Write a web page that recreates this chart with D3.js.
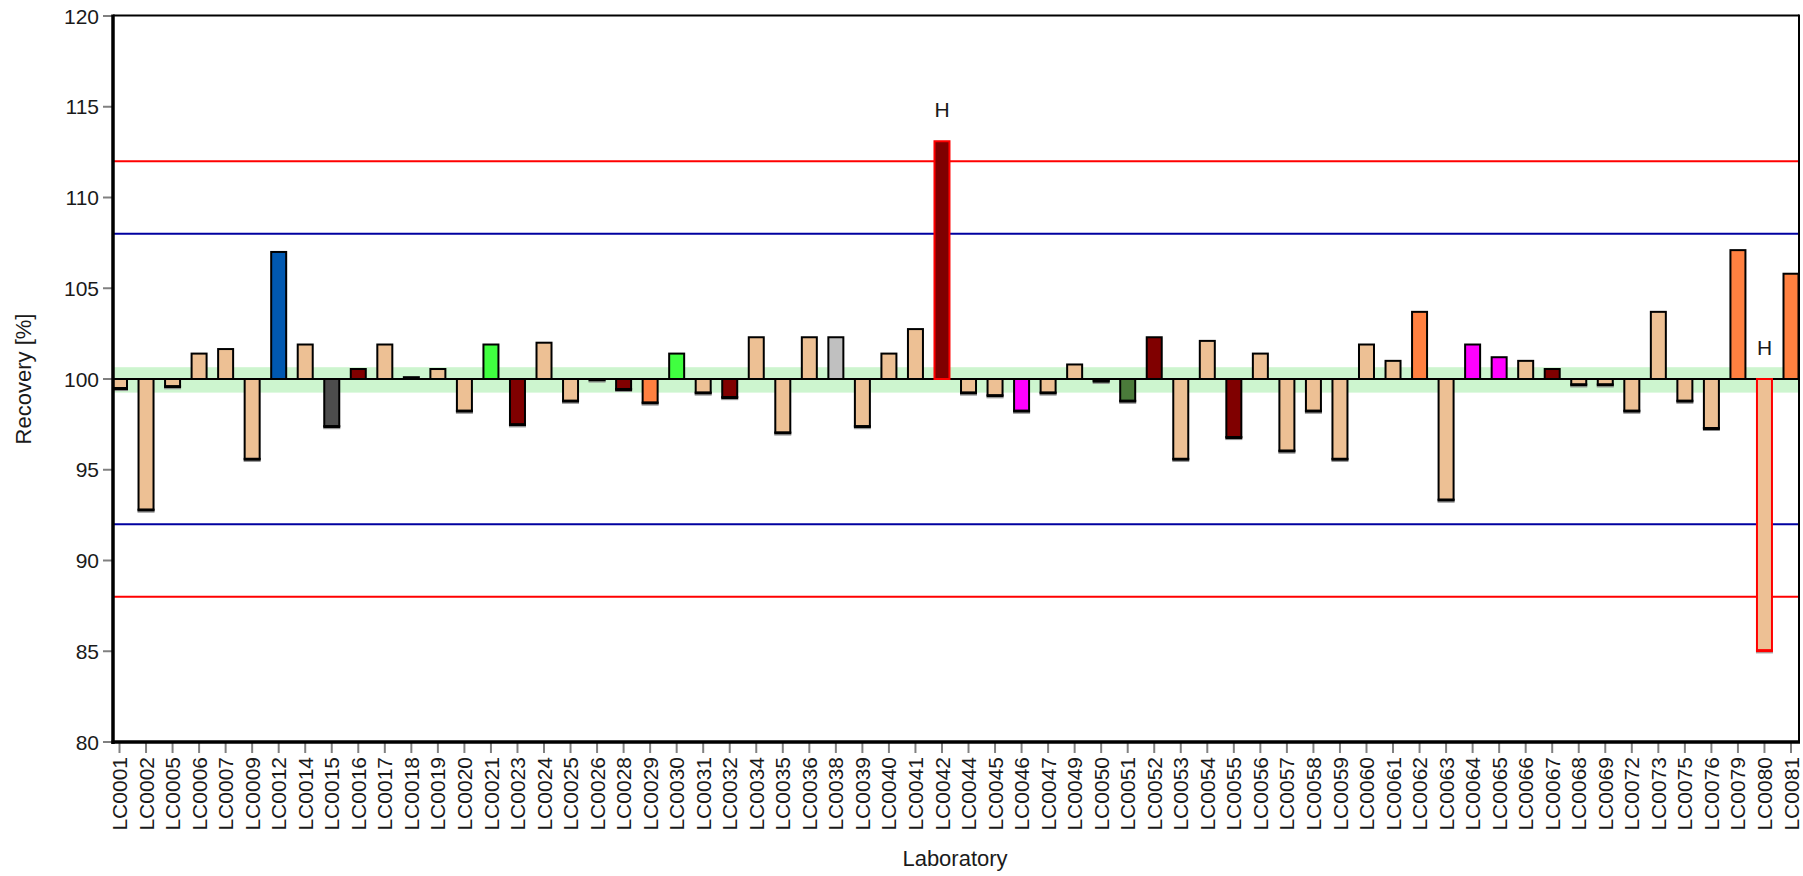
<!DOCTYPE html>
<html>
<head>
<meta charset="utf-8">
<script src="https://cdn.jsdelivr.net/npm/d3@7/dist/d3.min.js"></script>
<style>
  html, body { margin: 0; padding: 0; background: #fff; }
  svg { display: block; }
  text { font-family: "Liberation Sans", Arial, sans-serif; fill: #1a1a1a; }
</style>
</head>
<body>
<svg id="chart" width="1803" height="876"></svg>
<script>
// Laboratory codes, in the order they are plotted
const labs = [
  "LC0001","LC0002","LC0005","LC0006","LC0007","LC0009","LC0012","LC0014","LC0015","LC0016",
  "LC0017","LC0018","LC0019","LC0020","LC0021","LC0023","LC0024","LC0025","LC0026","LC0028",
  "LC0029","LC0030","LC0031","LC0032","LC0034","LC0035","LC0036","LC0038","LC0039","LC0040",
  "LC0041","LC0042","LC0044","LC0045","LC0046","LC0047","LC0049","LC0050","LC0051","LC0052",
  "LC0053","LC0054","LC0055","LC0056","LC0057","LC0058","LC0059","LC0060","LC0061","LC0062",
  "LC0063","LC0064","LC0065","LC0066","LC0067","LC0068","LC0069","LC0072","LC0073","LC0075",
  "LC0076","LC0079","LC0080","LC0081"
];

// Reported recovery per laboratory [%]
const recovery = [
  99.5, 92.8, 99.6, 101.4, 101.65, 95.6, 107.0, 101.9, 97.4, 100.55,
  101.9, 100.1, 100.55, 98.25, 101.9, 97.5, 102.0, 98.8, 99.97, 99.45,
  98.7, 101.4, 99.25, 99.0, 102.3, 97.05, 102.3, 102.3, 97.4, 101.4,
  102.75, 113.1, 99.25, 99.1, 98.25, 99.25, 100.8, 99.9, 98.8, 102.3,
  95.6, 102.1, 96.8, 101.4, 96.05, 98.25, 95.6, 101.9, 101.0, 103.7,
  93.35, 101.9, 101.2, 101.0, 100.55, 99.7, 99.7, 98.25, 103.7, 98.8,
  97.3, 107.1, 85.05, 105.8
];

// Method group of each laboratory (index into methodColors)
const methodGroup = [
  0, 0, 0, 0, 0, 0, 1, 0, 2, 3,
  0, 0, 0, 0, 4, 3, 0, 0, 0, 3,
  5, 4, 0, 3, 0, 0, 0, 6, 0, 0,
  0, 3, 0, 0, 7, 0, 0, 0, 8, 3,
  0, 0, 3, 0, 0, 0, 0, 0, 0, 5,
  0, 7, 7, 0, 3, 0, 0, 0, 0, 0,
  0, 5, 0, 5
];
const methodColors = ["#edc094", "#0058b0", "#4d4d4d", "#800000", "#40ff40", "#ff8040", "#c0c0c0", "#ff00ff", "#4a7a3a"];

// Flags shown above the bar ("H" = outside the action limits)
const flags = labs.map(() => "");
flags[labs.indexOf("LC0042")] = "H";
flags[labs.indexOf("LC0080")] = "H";

// Axis ticks and reference levels
const yTicks = [80, 85, 90, 95, 100, 105, 110, 115, 120];
const targetValue = 100;
const targetBand = [99.25, 100.65];
const warningLimits = [92, 108];
const actionLimits = [88, 112];

const svg = d3.select("#chart");
const plot = { left: 113, right: 1799, top: 16, bottom: 742 };

const x = d3.scalePoint().domain(labs).range([119.5, 1791]);
const y = d3.scaleLinear().domain([80, 120]).range([plot.bottom, plot.top]);
const barW = 15;

svg.append("defs").append("clipPath").attr("id", "plotClip")
  .append("rect")
  .attr("x", plot.left).attr("y", plot.top)
  .attr("width", plot.right - plot.left).attr("height", plot.bottom - plot.top);

const g = svg.append("g").attr("clip-path", "url(#plotClip)");

// tolerance band around the target
g.append("rect")
  .attr("x", plot.left).attr("width", plot.right - plot.left)
  .attr("y", y(targetBand[1])).attr("height", y(targetBand[0]) - y(targetBand[1]))
  .attr("fill", "#cdf5cf");

// limit lines
const limitLine = (v, color) => g.append("line")
  .attr("x1", plot.left).attr("x2", plot.right)
  .attr("y1", y(v)).attr("y2", y(v))
  .attr("stroke", color).attr("stroke-width", 2);
actionLimits.forEach(v => limitLine(v, "#ff0000"));
warningLimits.forEach(v => limitLine(v, "#0000a0"));

// target line
g.append("line")
  .attr("x1", plot.left).attr("x2", plot.right)
  .attr("y1", y(targetValue)).attr("y2", y(targetValue))
  .attr("stroke", "#000").attr("stroke-width", 2);

const data = labs.map((lab, i) => ({ lab, v: recovery[i], color: methodColors[methodGroup[i]], flag: flags[i] }));

// bars measured from the target value
const bars = g.selectAll("g.bar").data(data).join("g").attr("class", "bar");
bars.append("rect")
  .attr("x", d => x(d.lab) - barW / 2)
  .attr("width", barW)
  .attr("y", d => y(Math.max(d.v, targetValue)))
  .attr("height", d => Math.abs(y(d.v) - y(targetValue)))
  .attr("fill", d => d.color)
  .attr("stroke", d => d.flag ? "#ff0000" : "#000")
  .attr("stroke-width", 2);

// heavier lower edge on bars below the target
const below = bars.filter(d => d.v < targetValue);
below.append("line")
  .attr("x1", d => x(d.lab) - barW / 2 - 1).attr("x2", d => x(d.lab) + barW / 2 + 1)
  .attr("y1", d => y(d.v) + 0.5).attr("y2", d => y(d.v) + 0.5)
  .attr("stroke", d => d.flag ? "#ff0000" : "#000").attr("stroke-width", 3);
below.append("line")
  .attr("x1", d => x(d.lab) - barW / 2 - 1).attr("x2", d => x(d.lab) + barW / 2 + 1)
  .attr("y1", d => y(d.v) + 2.5).attr("y2", d => y(d.v) + 2.5)
  .attr("stroke", "#8a8a8a").attr("stroke-width", 1);

// flag labels
svg.selectAll("text.flag").data(data.filter(d => d.flag)).join("text")
  .attr("class", "flag")
  .attr("x", d => x(d.lab))
  .attr("y", d => y(Math.max(d.v, targetValue)) - 24)
  .attr("text-anchor", "middle")
  .attr("font-size", 21)
  .text(d => d.flag);

// frame: thin top/right, heavy left/bottom
svg.append("line").attr("x1", plot.left).attr("x2", plot.right).attr("y1", plot.top - 0.5).attr("y2", plot.top - 0.5)
  .attr("stroke", "#000").attr("stroke-width", 2);
svg.append("line").attr("x1", plot.right).attr("x2", plot.right).attr("y1", plot.top - 1.5).attr("y2", plot.bottom)
  .attr("stroke", "#000").attr("stroke-width", 2);

// y axis
const yAxis = svg.append("g");
yAxis.selectAll("line.tick").data(yTicks).join("line")
  .attr("x1", 103).attr("x2", plot.left).attr("y1", d => y(d)).attr("y2", d => y(d))
  .attr("stroke", "#808080").attr("stroke-width", 2);
yAxis.selectAll("text").data(yTicks).join("text")
  .attr("x", 99).attr("y", d => y(d)).attr("dy", "0.36em")
  .attr("text-anchor", "end").attr("font-size", 21)
  .text(d => d);

// x axis
const xAxis = svg.append("g");
xAxis.selectAll("line.tick").data(labs).join("line")
  .attr("x1", d => x(d)).attr("x2", d => x(d)).attr("y1", plot.bottom).attr("y2", plot.bottom + 11)
  .attr("stroke", "#808080").attr("stroke-width", 2);
xAxis.selectAll("text").data(labs).join("text")
  .attr("transform", d => `translate(${x(d)},${plot.bottom + 15}) rotate(-90)`)
  .attr("dy", "0.36em")
  .attr("text-anchor", "end").attr("font-size", 21)
  .text(d => d);

svg.append("line").attr("x1", plot.left).attr("x2", plot.left).attr("y1", plot.top - 1.5).attr("y2", plot.bottom + 2)
  .attr("stroke", "#000").attr("stroke-width", 3.5);
svg.append("line").attr("x1", plot.left - 1.5).attr("x2", plot.right + 1).attr("y1", plot.bottom).attr("y2", plot.bottom)
  .attr("stroke", "#000").attr("stroke-width", 3.5);

// axis titles
svg.append("text")
  .attr("transform", `translate(31,${(plot.top + plot.bottom) / 2}) rotate(-90)`)
  .attr("text-anchor", "middle").attr("font-size", 22)
  .text("Recovery [%]");
svg.append("text")
  .attr("x", 955).attr("y", 866)
  .attr("text-anchor", "middle").attr("font-size", 22)
  .text("Laboratory");
</script>
</body>
</html>
